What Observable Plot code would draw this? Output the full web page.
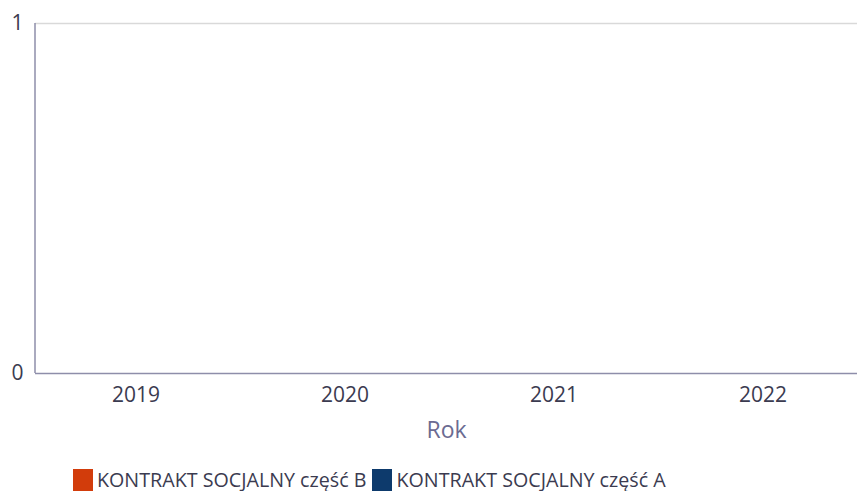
<!DOCTYPE html>
<html><head><meta charset="utf-8">
<script src="https://cdn.jsdelivr.net/npm/d3@7"></script>
<script src="https://cdn.jsdelivr.net/npm/@observablehq/plot@0.6"></script>
<style>
body{margin:0;background:#fff;font-family:"Open Sans",sans-serif;overflow:hidden;}
#legend{display:flex;align-items:center;padding-left:73px;margin-top:22px;font-size:19.7px;line-height:22px;height:22px;color:#3b3b50;}
#legend .sw{display:inline-block;width:20px;height:22px;margin-right:4px;}
#legend .item{display:flex;align-items:center;margin-right:6px;}
</style></head><body>
<div id="chart"></div>
<div id="legend"></div>
<script>
const years = ["2019","2020","2021","2022"];
const seriesNames = ["KONTRAKT SOCJALNY część B","KONTRAKT SOCJALNY część A"];
const valuesB = [0,0,0,0];
const valuesA = [0,0,0,0];
const colors = ["#d23c0b","#0d3a6c"];
const yTicks = [0,1];
const xTitle = "Rok";

const data = [];
years.forEach((y,i)=>{
  data.push({year:y, series:seriesNames[0], value:valuesB[i]});
  data.push({year:y, series:seriesNames[1], value:valuesA[i]});
});

const chart = Plot.plot({
  width: 858, height: 447,
  marginTop: 23, marginBottom: 74, marginLeft: 35, marginRight: 1,
  style: {fontFamily: "Open Sans", fontSize: "20px", color: "#3b3b50", background: "#fff"},
  x: {domain: years, label: null, padding: 0, range: [31, 867]},
  y: {domain: [0,1], ticks: yTicks, label: null},
  color: {domain: seriesNames, range: colors},
  marks: [
    Plot.gridY(yTicks.filter(d=>d>0), {stroke: "#d9d9d9", strokeOpacity: 1, strokeWidth: 1.5}),
    Plot.barY(data, {x: "year", y: "value", fill: "series", inset: 30}),
    Plot.axisX({tickSize: 0, tickPadding: 14, fontSize: 21, fill: "#3b3b50", label: null}),
    Plot.axisX({tickSize: 0, tickFormat: () => "", fontSize: 23, fill: "#6b6b92",
      label: xTitle, labelAnchor: "center", labelArrow: "none", labelOffset: 64}),
    Plot.axisY({ticks: yTicks, tickSize: 0, tickPadding: 12, fontSize: 21, fill: "#3b3b50",
      tickFormat: d3.format("d"), label: null}),
    Plot.ruleY([0], {stroke: "#8e8eaa", strokeWidth: 1.5})
  ]
});
document.getElementById("chart").appendChild(chart);

// left axis line
d3.select(chart).append("line").attr("x1",35).attr("x2",35).attr("y1",23).attr("y2",373)
  .attr("stroke","#8e8eaa").attr("stroke-width",1.5);

const lg = document.getElementById("legend");
seriesNames.forEach((s,i)=>{
  const it = document.createElement("span"); it.className="item";
  const sw = document.createElement("span"); sw.className="sw"; sw.style.background=colors[i];
  it.appendChild(sw); it.appendChild(document.createTextNode(s));
  lg.appendChild(it);
});
</script>
</body></html>
